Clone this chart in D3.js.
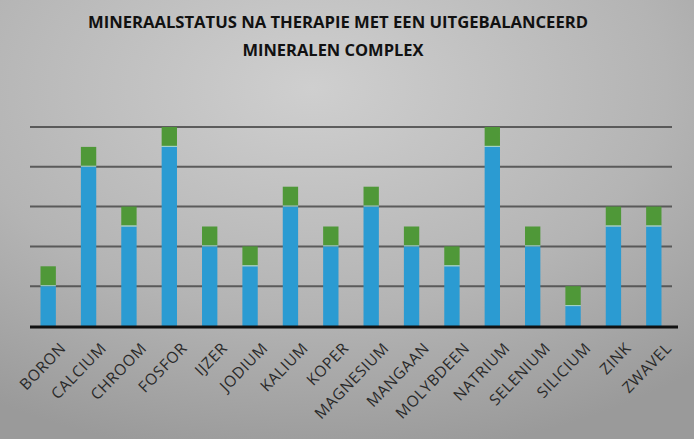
<!DOCTYPE html>
<html><head><meta charset="utf-8">
<script src="https://cdn.jsdelivr.net/npm/d3@7"></script>
<style>html,body{margin:0;padding:0;background:#b0b0b0;}svg{display:block;}</style>
</head><body><svg id="c" width="694" height="439"></svg>
<script>
const categories = ["BORON","CALCIUM","CHROOM","FOSFOR","IJZER","JODIUM","KALIUM","KOPER","MAGNESIUM","MANGAAN","MOLYBDEEN","NATRIUM","SELENIUM","SILICIUM","ZINK","ZWAVEL"];
const baseValues = [1, 4, 2.5, 4.5, 2, 1.5, 3, 2, 3, 2, 1.5, 4.5, 2, 0.5, 2.5, 2.5];
const extraValues = [0.5, 0.5, 0.5, 0.5, 0.5, 0.5, 0.5, 0.5, 0.5, 0.5, 0.5, 0.5, 0.5, 0.5, 0.5, 0.5];
const yTicks = [0, 1, 2, 3, 4, 5];
const titleLines = ["MINERAALSTATUS NA THERAPIE MET EEN UITGEBALANCEERD", "MINERALEN COMPLEX"];

const svg = d3.select("#c");
const W = 694, H = 439;
const defs = svg.append("defs");
const g1 = defs.append("radialGradient").attr("id","bg").attr("cx","0.45").attr("cy","0.2").attr("r","0.85");
g1.append("stop").attr("offset","0").attr("stop-color","#cfcfcf");
g1.append("stop").attr("offset","0.6").attr("stop-color","#b4b4b4");
g1.append("stop").attr("offset","1").attr("stop-color","#9a9a9a");
svg.append("rect").attr("width",W).attr("height",H).attr("fill","url(#bg)");

const x = d3.scaleBand().domain(categories).range([28, 674]).paddingInner(0.62).paddingOuter(0.31);
const y = d3.scaleLinear().domain([0, 5]).range([326, 127]);

// gridlines
svg.append("g").selectAll("line").data(yTicks.filter(d => d > 0)).join("line")
  .attr("x1", 30).attr("x2", 672)
  .attr("y1", d => y(d)).attr("y2", d => y(d))
  .attr("stroke", "#4a4a4a").attr("stroke-width", 2).attr("opacity", 0.85);

const stack = categories.map((c, i) => ({c, b: baseValues[i], e: extraValues[i]}));
const bars = svg.append("g");
bars.selectAll("rect.b").data(stack).join("rect").attr("class","b")
  .attr("x", d => x(d.c)).attr("width", x.bandwidth())
  .attr("y", d => y(d.b)).attr("height", d => y(0) - y(d.b))
  .attr("fill", "#2b9bd2");
bars.selectAll("rect.e").data(stack).join("rect").attr("class","e")
  .attr("x", d => x(d.c)).attr("width", x.bandwidth())
  .attr("y", d => y(d.b + d.e)).attr("height", d => y(d.b) - y(d.b + d.e) - 1)
  .attr("fill", "#4f9838");
bars.selectAll("line.sep").data(stack).join("line").attr("class","sep")
  .attr("x1", d => x(d.c)).attr("x2", d => x(d.c) + x.bandwidth())
  .attr("y1", d => y(d.b) - 0.5).attr("y2", d => y(d.b) - 0.5)
  .attr("stroke", "#9fd6c8").attr("stroke-width", 1);

// baseline axis
const xAxis = svg.append("g").attr("transform", `translate(0,${y(0)})`)
  .call(d3.axisBottom(x).tickSize(0).tickPadding(0));
xAxis.select(".domain").remove();
svg.append("line").attr("x1", 30).attr("x2", 678).attr("y1", y(0) + 1).attr("y2", y(0) + 1)
  .attr("stroke", "#111").attr("stroke-width", 3);
xAxis.selectAll("text")
  .attr("font-family", "'Open Sans', 'DejaVu Sans', sans-serif")
  .attr("font-size", 15.5).attr("fill", "#2a2a2a")
  .attr("letter-spacing", 0.6)
  .attr("text-anchor", "end")
  .attr("dy", 0)
  .attr("transform", d => `translate(${x.bandwidth()/2 + 11},23) rotate(-46)`);

// title
svg.append("g").selectAll("text").data(titleLines).join("text")
  .attr("x", (d, i) => i === 0 ? 338 : 333)
  .attr("y", (d, i) => 28 + i * 28)
  .attr("text-anchor", "middle")
  .attr("font-family", "'Liberation Sans Narrow', 'Open Sans', sans-serif")
  .attr("font-weight", "bold").attr("font-size", 16).attr("fill", "#111")
  .attr("textLength", (d, i) => i === 0 ? 500 : 181)
  .attr("lengthAdjust", "spacingAndGlyphs")
  .text(d => d);
</script></body></html>
